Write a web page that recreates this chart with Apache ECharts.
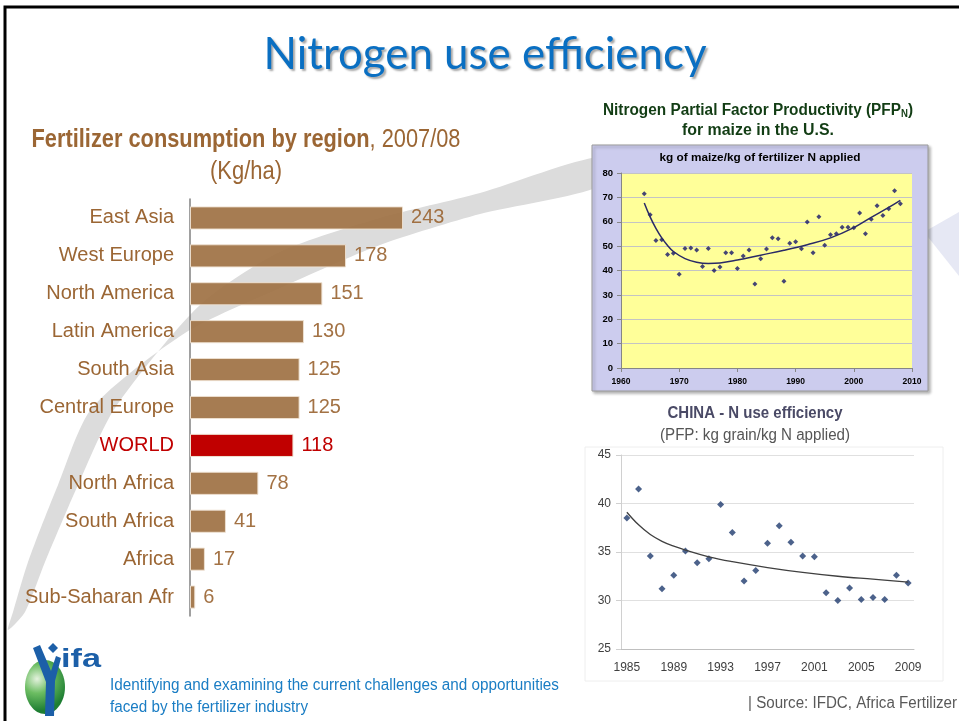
<!DOCTYPE html>
<html>
<head>
<meta charset="utf-8">
<title>Nitrogen use efficiency</title>
<script src="https://cdn.jsdelivr.net/npm/echarts@6.0.0/dist/echarts.min.js"></script>
<style>
  html, body { margin: 0; padding: 0; background: #fff; }
  #chart { width: 959px; height: 721px; }
</style>
</head>
<body>
<div id="chart"></div>
<script>
// fertilizer consumption by region, 2007/08 (kg/ha)
const regions = ['East Asia', 'West Europe', 'North America', 'Latin America', 'South Asia',
  'Central Europe', 'WORLD', 'North Africa', 'South Africa', 'Africa', 'Sub-Saharan Afr'];
const consumption = [243, 178, 151, 130, 125, 125, 118, 78, 41, 17, 6];

// US maize: kg of maize / kg of fertilizer N
const usYears = [1964, 1965, 1966, 1967, 1968, 1969, 1970, 1971, 1972, 1973, 1974, 1975, 1976, 1977, 1978,
  1979, 1980, 1981, 1982, 1983, 1984, 1985, 1986, 1987, 1988, 1989, 1990, 1991, 1992, 1993, 1994, 1995,
  1996, 1997, 1998, 1999, 2000, 2001, 2002, 2003, 2004, 2005, 2006, 2007, 2008];
const usPfp = [71.5, 62.9, 52.3, 52.6, 46.6, 47.1, 38.5, 49.0, 49.2, 48.4, 41.6, 49.0, 40.0, 41.4, 47.3,
  47.3, 40.8, 45.9, 48.4, 34.5, 44.8, 48.8, 53.4, 53.0, 35.6, 51.2, 51.8, 48.9, 59.9, 47.3, 62.1, 50.4,
  54.7, 55.1, 57.7, 57.7, 57.5, 63.6, 55.1, 61.0, 66.6, 62.6, 65.3, 72.7, 67.4];
// trend curve, read at a few years
const usTrendYears = [1964, 1965, 1966, 1967, 1968, 1969, 1971, 1973, 1975, 1977, 1980, 1984, 1988, 1992, 1996, 2000, 2003, 2006, 2008];
const usTrendVals = [67.7, 62.0, 57.3, 53.4, 50.3, 47.8, 44.9, 43.4, 42.9, 43.1, 44.3, 46.3, 48.3, 50.6, 53.4, 57.6, 61.8, 65.9, 68.8];

// China: PFP kg grain / kg N
const cnYears = ['1985', '1986', '1987', '1988', '1989', '1990', '1991', '1992', '1993', '1994', '1995', '1996',
  '1997', '1998', '1999', '2000', '2001', '2002', '2003', '2004', '2005', '2006', '2007', '2008', '2009'];
const cnPfp = [38.5, 41.5, 34.6, 31.2, 32.6, 35.1, 33.9, 34.3, 39.9, 37.0, 32.0, 33.1,
  35.9, 37.7, 36.0, 34.6, 34.5, 30.8, 30.0, 31.3, 30.1, 30.3, 30.1, 32.6, 31.8];
const cnTrendYears = ['1985', '1986', '1987', '1988', '1989', '1990', '1992', '1994', '1997', '2000', '2003', '2006', '2009'];
const cnTrendVals = [39.1, 37.8, 36.8, 36.1, 35.6, 35.2, 34.5, 34.0, 33.4, 32.9, 32.5, 32.2, 31.9];

const sans = '"Liberation Sans", Arial, sans-serif';
const brown = '#9b6634';
const red = '#c00000';

// no narrow font here, so squeeze text horizontally to the width it has on the slide
const ctx = document.createElement('canvas').getContext('2d');
function textWidth(text, font) {
  ctx.font = font;
  return ctx.measureText(text).width;
}
function squeezed(x, y, text, font, fill, width, align) {
  return {
    type: 'text', x: x, y: y, scaleX: width / textWidth(text, font),
    style: { text: text, font: font, fill: fill, align: align || 'center', verticalAlign: 'middle' }
  };
}

const headFont = 'bold 25px ' + sans;
const headFont2 = '25px ' + sans;
const headScale = 429 / (textWidth('Fertilizer consumption by region', headFont) + textWidth(', 2007/08', headFont2));
const usFont = 'bold 16px ' + sans;
const usScale = 310 / (textWidth('Nitrogen Partial Factor Productivity (PFP)', usFont) + textWidth('N', 'bold 10px ' + sans));

const chart = echarts.init(document.getElementById('chart'));

const option = {
  animation: false,
  backgroundColor: '#fff',
  graphic: [
    // background swoosh
    {
      type: 'polygon', z: -20, silent: true,
      shape: {
        smooth: 0.25,
        points: [[8, 630], [25, 612], [45, 562], [78, 485], [115, 408], [200, 305], [280, 252], [380, 218],
          [480, 193], [600, 157], [600, 186], [480, 214], [380, 245], [280, 288], [185, 333], [92, 408],
          [58, 485], [28, 562], [13, 612]]
      },
      style: { fill: '#dcdcdc' }
    },
    {
      type: 'polygon', z: -20, silent: true,
      shape: { points: [[924, 232], [959, 212], [959, 276]] },
      style: { fill: '#e6e8f4' }
    },
    // slide frame
    {
      type: 'rect', z: 50, silent: true,
      shape: { x: 5, y: 7, width: 1000, height: 800 },
      style: { fill: 'none', stroke: '#000', lineWidth: 3 }
    },
    // title
    {
      type: 'text', x: 485, y: 55,
      scaleX: 443 / textWidth('Nitrogen use efficiency', '44px Lato'),
      style: {
        text: 'Nitrogen use efficiency', fill: '#0a6fc2', font: '44px Lato, "Open Sans", sans-serif',
        align: 'center', verticalAlign: 'middle',
        textShadowColor: 'rgba(0,0,0,0.35)', textShadowOffsetX: 2, textShadowOffsetY: 2, textShadowBlur: 2
      }
    },
    // left chart heading
    {
      type: 'text', x: 246, y: 140, scaleX: headScale,
      style: {
        text: '{b|Fertilizer consumption by region}{n|, 2007/08}',
        align: 'center', verticalAlign: 'middle',
        rich: {
          b: { font: headFont, fill: brown },
          n: { font: headFont2, fill: brown }
        }
      }
    },
    squeezed(246, 172, '(Kg/ha)', headFont2, brown, 72),
    // US heading
    {
      type: 'text', x: 758, y: 109, scaleX: usScale,
      style: {
        text: '{a|Nitrogen Partial Factor Productivity (PFP}{s|N}{a|)}',
        align: 'center', verticalAlign: 'middle',
        rich: {
          a: { font: usFont, fill: '#123d14', lineHeight: 20, verticalAlign: 'bottom' },
          s: { font: 'bold 10px ' + sans, fill: '#123d14', lineHeight: 10, verticalAlign: 'bottom' }
        }
      }
    },
    squeezed(758, 131, 'for maize in the U.S.', usFont, '#123d14', 152),
    // US panel
    {
      type: 'rect', z: -5, silent: true,
      shape: { x: 592, y: 145, width: 336, height: 246 },
      style: { fill: '#ccccee', stroke: '#9a9a9a', lineWidth: 1, shadowColor: 'rgba(0,0,0,0.3)', shadowBlur: 3, shadowOffsetX: 2, shadowOffsetY: 2 }
    },
    squeezed(760, 158, 'kg of maize/kg of fertilizer N applied', 'bold 11px ' + sans, '#000', 201),
    // China heading
    squeezed(755, 413, 'CHINA - N use efficiency', 'bold 17px ' + sans, '#4a4a66', 175),
    squeezed(755, 436, '(PFP: kg grain/kg N applied)', '16px ' + sans, '#555', 190),
    {
      type: 'rect', z: -5, silent: true,
      shape: { x: 585, y: 447, width: 358, height: 234 },
      style: { fill: '#fff', stroke: '#eeeeee', lineWidth: 1 }
    },
    // logo
    {
      type: 'ellipse', silent: true,
      shape: { cx: 45, cy: 687, rx: 20, ry: 27 },
      style: {
        fill: {
          type: 'radial', x: 0.3, y: 0.35, r: 0.8,
          colorStops: [{ offset: 0, color: '#e4f2de' }, { offset: 0.45, color: '#6cbd62' }, { offset: 1, color: '#1e7e32' }]
        }
      }
    },
    {
      type: 'polygon', silent: true,
      shape: { points: [[33, 648], [40, 645], [51, 671], [56, 656], [61, 658], [55, 681], [54, 716], [45, 716], [46, 682]] },
      style: { fill: '#1c5fa8' }
    },
    {
      type: 'polygon', silent: true,
      shape: { points: [[53, 643], [58, 648], [53, 653], [48, 648]] },
      style: { fill: '#1c5fa8' }
    },
    squeezed(61, 660, 'ifa', 'bold 26px ' + sans, '#1c5fa8', 40, 'left'),
    squeezed(110, 686, 'Identifying and examining the current challenges and opportunities', '16px ' + sans, '#1a7dc4', 449, 'left'),
    squeezed(110, 708, 'faced by the fertilizer industry', '16px ' + sans, '#1a7dc4', 198, 'left'),
    squeezed(748, 704, '| Source: IFDC, Africa Fertilizer', '16px ' + sans, '#595959', 209, 'left')
  ],
  grid: [
    { left: 190, top: 199, width: 263, height: 417 },
    { left: 621, top: 173, width: 291, height: 195, show: true, backgroundColor: '#ffff99', borderWidth: 0 },
    { left: 621, top: 455, width: 293, height: 194 }
  ],
  xAxis: [
    { gridIndex: 0, type: 'value', min: 0, max: 300, show: false },
    {
      gridIndex: 1, type: 'value', min: 1960, max: 2010, interval: 10,
      axisLine: { lineStyle: { color: '#868686' } },
      axisTick: { lineStyle: { color: '#868686' }, length: 4 },
      splitLine: { show: false },
      axisLabel: { color: '#000', fontSize: 8.5, fontWeight: 'bold', fontFamily: sans, margin: 9, formatter: (v) => String(v) }
    },
    {
      gridIndex: 2, type: 'category', data: cnYears, boundaryGap: true,
      axisLine: { lineStyle: { color: '#bfbfbf' } },
      axisTick: { interval: 0, length: 5, lineStyle: { color: '#bfbfbf' } },
      axisLabel: { interval: 3, color: '#404040', fontSize: 12, fontFamily: sans, margin: 13 }
    }
  ],
  yAxis: [
    {
      gridIndex: 0, type: 'category', data: regions, inverse: true,
      axisLine: { lineStyle: { color: '#808080', width: 1.5 } },
      axisTick: { show: false },
      axisLabel: {
        fontSize: 20, fontFamily: sans, margin: 16,
        color: (v) => (v === 'WORLD' ? red : brown)
      }
    },
    {
      gridIndex: 1, type: 'value', min: 0, max: 80, interval: 10,
      axisLine: { show: true, lineStyle: { color: '#868686' } },
      axisTick: { show: true, length: 4, lineStyle: { color: '#868686' } },
      splitLine: { lineStyle: { color: '#c4c4c4' } },
      axisLabel: { color: '#000', fontSize: 9.5, fontWeight: 'bold', fontFamily: sans, margin: 8 }
    },
    {
      gridIndex: 2, type: 'value', min: 25, max: 45, interval: 5,
      axisLine: { show: true, lineStyle: { color: '#d0d0d0' } },
      axisTick: { show: true, length: 5, lineStyle: { color: '#d0d0d0' } },
      splitLine: { lineStyle: { color: '#e0e0e0' } },
      axisLabel: { color: '#404040', fontSize: 12, fontFamily: sans, margin: 10 }
    }
  ],
  series: [
    {
      name: 'Consumption', type: 'bar', xAxisIndex: 0, yAxisIndex: 0, barWidth: '61%',
      data: consumption.map((v, i) => regions[i] === 'WORLD'
        ? { value: v, itemStyle: { color: red, opacity: 1 }, label: { color: red } }
        : v),
      itemStyle: { color: '#9e7143', opacity: 0.92, borderColor: '#efe2d2', borderWidth: 1 },
      label: { show: true, position: 'right', distance: 8, fontSize: 20, fontFamily: sans, color: brown }
    },
    {
      name: 'US PFP', type: 'scatter', xAxisIndex: 1, yAxisIndex: 1,
      symbol: 'diamond', symbolSize: 5,
      itemStyle: { color: '#16166a' },
      data: usYears.map((y, i) => [y, usPfp[i]])
    },
    {
      name: 'US trend', type: 'line', xAxisIndex: 1, yAxisIndex: 1,
      smooth: 0.4, showSymbol: false,
      lineStyle: { color: '#2a2a66', width: 1.5 },
      data: usTrendYears.map((y, i) => [y, usTrendVals[i]])
    },
    {
      name: 'China PFP', type: 'scatter', xAxisIndex: 2, yAxisIndex: 2,
      symbol: 'diamond', symbolSize: 7,
      itemStyle: { color: '#1f3b6e' },
      data: cnPfp
    },
    {
      name: 'China trend', type: 'line', xAxisIndex: 2, yAxisIndex: 2,
      smooth: 0.4, showSymbol: false,
      lineStyle: { color: '#404040', width: 1.3 },
      data: cnTrendYears.map((y, i) => [y, cnTrendVals[i]])
    }
  ]
};

chart.setOption(option);
</script>
</body>
</html>
